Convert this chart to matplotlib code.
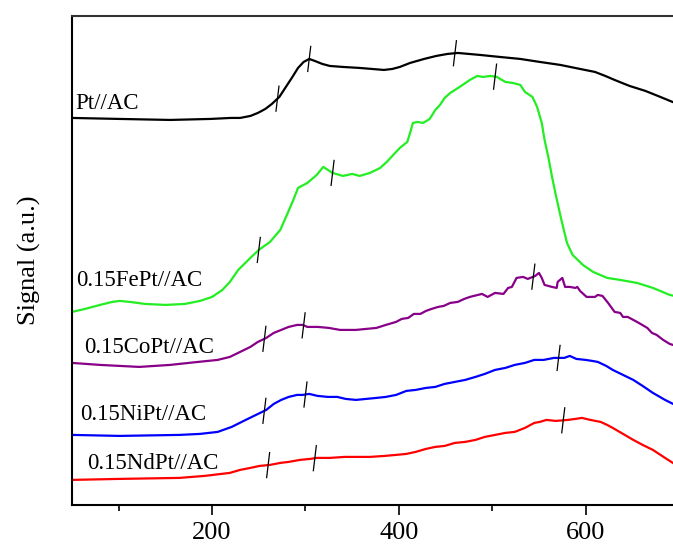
import matplotlib.pyplot as plt
import numpy as np

plt.rcParams['font.family'] = 'Liberation Serif'

# temperature (°C) / signal (a.u.) read per sample
pt_T = [50, 101, 155, 198, 220, 230, 241, 249, 257, 264, 272, 279, 286, 292, 298,
        304, 310, 318, 326, 340, 358, 384, 393, 401, 412, 427, 440, 452, 463, 487,
        508, 530, 551, 573, 594, 610, 621, 631, 647, 664, 680, 693, 700]
pt_S = [387, 386, 385, 386, 387, 387, 389, 392, 396, 401, 408, 418, 428, 437, 443,
        446, 444, 441, 439, 438, 437, 435, 436, 438, 442, 446, 449, 451, 452, 450,
        448, 446, 443, 440, 436, 433, 429, 425, 419, 414, 408, 403, 401]

fe_T = [50, 64, 80, 93, 101, 112, 128, 150, 171, 187, 200, 211, 219, 228, 241, 250,
        262, 273, 281, 287, 292, 302, 312, 319, 324, 329, 340, 350, 358, 369, 380,
        387, 396, 401, 409, 412, 415, 420, 426, 433, 439, 444, 449, 455, 465, 476,
        484, 490, 498, 505, 514, 522, 530, 535, 543, 548, 553, 556, 560, 564, 568,
        574, 580, 586, 597, 608, 623, 637, 655, 672, 690, 700]
fe_S = [193, 196, 200, 203, 204, 203, 201, 200, 201, 204, 208, 215, 223, 235, 247, 255,
        263, 275, 292, 305, 317, 322, 330, 338, 335, 332, 329, 331, 329, 332, 337,
        343, 352, 357, 363, 372, 382, 383, 382, 386, 395, 400, 407, 412, 418, 425,
        429, 428, 429, 428, 423, 422, 420, 413, 408, 398, 382, 365, 348, 328, 310,
        285, 262, 250, 240, 233, 227, 225, 222, 217, 210, 208]

co_T = [50, 80, 122, 155, 185, 206, 219, 230, 241, 249, 258, 266, 274, 282, 291,
        297, 302, 313, 325, 337, 354, 365, 376, 386, 397, 403, 410, 416, 423, 429,
        435, 442, 448, 455, 463, 470, 476, 489, 495, 503, 512, 517, 521, 526, 533,
        538, 546, 550, 553, 556, 564, 569, 570, 575, 578, 583, 589, 591, 594, 601,
        610, 613, 618, 624, 631, 637, 640, 645, 655, 666, 671, 676, 683, 690, 700]
co_S = [142, 140, 138, 140, 143, 145, 148, 153, 158, 163, 167, 172, 175, 178, 180,
        180, 178, 178, 177, 175, 175, 176, 177, 180, 183, 186, 187, 191, 191, 194,
        196, 198, 199, 202, 203, 206, 208, 211, 208, 212, 211, 217, 218, 227, 228,
        226, 229, 232, 227, 220, 218, 217, 223, 227, 218, 218, 217, 218, 214, 208,
        208, 210, 209, 202, 193, 192, 188, 188, 183, 177, 172, 170, 165, 161, 158]

ni_T = [50, 101, 165, 187, 206, 221, 236, 247, 258, 266, 274, 282, 291, 297, 304,
        313, 324, 334, 343, 354, 365, 376, 386, 397, 408, 418, 429, 439, 449, 460,
        471, 482, 492, 503, 514, 524, 535, 545, 555, 566, 577, 583, 590, 600, 607,
        613, 622, 629, 640, 651, 661, 672, 685, 700]
ni_S = [70, 69, 70, 71, 73, 78, 85, 90, 95, 101, 105, 108, 110, 110, 111,
        109, 108, 108, 106, 105, 106, 107, 108, 110, 114, 115, 117, 118, 121, 123,
        125, 128, 131, 135, 137, 140, 142, 145, 145, 147, 147, 149, 146, 145, 144,
        143, 139, 135, 130, 125, 119, 112, 105, 98]

nd_T = [50, 101, 165, 192, 219, 230, 241, 251, 262, 273, 282, 294, 305, 312, 326,
        342, 354, 369, 385, 397, 408, 418, 429, 439, 449, 460, 471, 482, 492, 503,
        514, 524, 535, 545, 551, 558, 568, 581, 589, 596, 605, 616, 623, 629, 640,
        651, 661, 672, 685, 700]
nd_S = [25, 26, 27, 29, 32, 35, 37, 39, 40, 42, 43, 45, 46, 47, 47,
        48, 48, 48, 49, 50, 51, 53, 56, 58, 59, 62, 63, 65, 68, 70,
        72, 73, 77, 82, 83, 85, 84, 85, 86, 87, 85, 83, 80, 77, 71,
        65, 60, 55, 47, 38]

labels = ['Pt//AC', '0.15FePt//AC', '0.15CoPt//AC', '0.15NiPt//AC', '0.15NdPt//AC']
colors = ['black', '#22ee22', '#880088', '#0000ff', '#ff0000']

# peak markers (°C) for each sample
peaks = [[270, 304, 460],
         [250, 329, 503],
         [256, 298, 544],
         [256, 300, 571],
         [260, 310, 576]]

# label anchor (°C, signal)
label_pos = [(54, 401), (54, 224), (63, 157), (59, 90), (66, 41)]

series = [(pt_T, pt_S), (fe_T, fe_S), (co_T, co_S), (ni_T, ni_S), (nd_T, nd_S)]

fig = plt.figure(figsize=(6.73, 5.5), dpi=100)
ax = fig.add_axes([0.107, 0.082, 0.902, 0.889])

for (T, S), c, lab, pk, lp in zip(series, colors, labels, peaks, label_pos):
    ax.plot(T, S, color=c, lw=1.6, solid_joinstyle='round')
    for p in pk:
        yc = np.interp(p, T, S)
        ax.plot([p - 1.6, p + 1.6], [yc - 12.5, yc + 12.5], color='black', lw=0.9)
    ax.text(lp[0], lp[1], lab, fontsize=16.5, va='center', ha='left')

ax.set_xlim(50, 700)
ax.set_ylim(0, 489)
ax.set_yticks([])
ax.set_xticks([200, 400, 600])
ax.set_xticks([100, 300, 500], minor=True)
ax.tick_params(axis='x', which='major', direction='out', length=7.5, width=1.2,
               labelsize=19, pad=5)
ax.tick_params(axis='x', which='minor', direction='out', length=4, width=1.2)
ax.set_ylabel('Signal (a.u.)', fontsize=19, labelpad=22)
for s in ['left', 'bottom', 'top']:
    ax.spines[s].set_linewidth(1.5)
ax.spines['top'].set_color('#333333')
ax.spines['right'].set_visible(False)

plt.savefig('out.png', dpi=100)
